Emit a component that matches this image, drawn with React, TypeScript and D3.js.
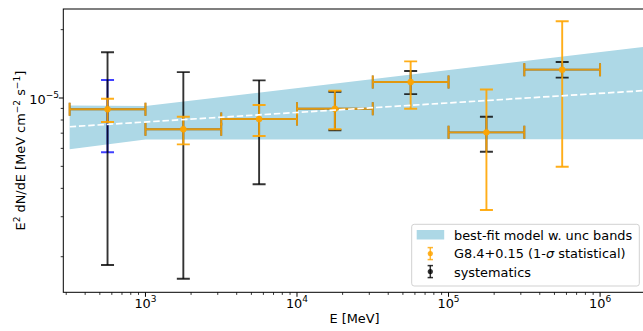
import React from 'react';
import * as d3 from 'd3';

// ---- data ----
const energy = [562, 1778, 5623, 17783, 56234, 177828, 562341];
const eLow = [316, 1000, 3162, 10000, 31623, 100000, 316228];
const eHigh = [1000, 3162, 10000, 31623, 100000, 316228, 1000000];
const flux = [8.92e-6, 7.28e-6, 8.08e-6, 8.97e-6, 1.176e-5, 7.06e-6, 1.333e-5];
const statLow = [7.84e-6, 6.25e-6, 6.8e-6, 7.28e-6, 8.97e-6, 3.21e-6, 4.98e-6];
const statHigh = [9.93e-6, 8.27e-6, 9.31e-6, 1.077e-5, 1.45e-5, 1.09e-5, 2.177e-5];
const sysLow = [1.84e-6, 1.6e-6, 4.17e-6, 7.21e-6, 1.04e-5, 5.8e-6, 1.229e-5];
const sysHigh = [1.59e-5, 1.3e-5, 1.196e-5, 1.066e-5, 1.315e-5, 8.27e-6, 1.44e-5];
const extraIndex = [0];
const extraLow = [5.77e-6];
const extraHigh = [1.2e-5];
const bandE = [316, 1000, 2000000];
const bandLow = [5.94e-6, 6.56e-6, 6.58e-6];
const bandHigh = [9.27e-6, 9.22e-6, 1.683e-5];
const fitE = [316, 2000000];
const fitFlux = [7.47e-6, 1.079e-5];
const xMajor = [1e3, 1e4, 1e5, 1e6];
const xMajorExp = ['3', '4', '5', '6'];
const yMajor = [1e-5];
const yMajorExp = ['\u22125'];
const legendLabels = ['best-fit model w. unc bands', 'G8.4+0.15 (1-', ' statistical)', 'systematics'];

// ---- layout ----
const W = 643;
const H = 331;
const L = 63.3;
const R = 645.7;
const T = 9;
const B = 292.3;
const FONT = "'DejaVu Sans', sans-serif";
const ORANGE = '#ffa500';
const CAP = 6.5;
const LW = 1.9;
const FS = 12.9;
const FSS = 9;
const SUP = 5.2;

export default function App() {
  const x = d3.scaleLog().domain([287, 2.0e6]).range([L, R]);
  const y = d3.scaleLog().domain([1.394e-6, 2.466e-5]).range([B, T]);

  const xMinor: number[] = [];
  for (let d = 100; d <= 1e6; d *= 10) {
    for (let k = 2; k <= 9; k++) {
      const v = d * k;
      if (v >= 287 && v <= 2.0e6) xMinor.push(v);
    }
  }
  const yMinor: number[] = [];
  for (let d = 1e-6; d <= 1e-5 * 1.01; d *= 10) {
    for (let k = 2; k <= 9; k++) {
      const v = d * k;
      if (v >= 1.394e-6 && v <= 2.466e-5) yMinor.push(v);
    }
  }

  const area = d3
    .area<number>()
    .x((_, i) => x(bandE[i]))
    .y0((_, i) => y(bandLow[i]))
    .y1((_, i) => y(bandHigh[i]));
  const fitLine = d3
    .line<number>()
    .x((_, i) => x(fitE[i]))
    .y((_, i) => y(fitFlux[i]));

  const vBar = (xi: number, lo: number, hi: number, color: string, op: number, key: string) => (
    <g key={key} stroke={color} strokeOpacity={op} strokeWidth={LW} fill="none">
      <line x1={xi} x2={xi} y1={y(lo)} y2={y(hi)} />
      <line x1={xi - CAP} x2={xi + CAP} y1={y(lo)} y2={y(lo)} />
      <line x1={xi - CAP} x2={xi + CAP} y1={y(hi)} y2={y(hi)} />
    </g>
  );
  const hBar = (i: number, color: string, op: number, key: string) => {
    const yi = y(flux[i]);
    return (
      <g key={key} stroke={color} strokeOpacity={op} strokeWidth={LW} fill="none">
        <line x1={x(eLow[i])} x2={x(eHigh[i])} y1={yi} y2={yi} />
        <line x1={x(eLow[i])} x2={x(eLow[i])} y1={yi - CAP} y2={yi + CAP} />
        <line x1={x(eHigh[i])} x2={x(eHigh[i])} y1={yi - CAP} y2={yi + CAP} />
      </g>
    );
  };

  const lgX = 411.7;
  const lgY = 224.3;
  const txt = { fontFamily: FONT };

  return (
    <svg
      width={W}
      height={H}
      style={{ position: 'absolute', left: 0, top: 0, background: '#fff', fontFamily: FONT }}
    >
      <defs>
        <clipPath id="plotclip">
          <rect x={L} y={T} width={R - L} height={B - T} />
        </clipPath>
      </defs>
      <rect x={0} y={0} width={W} height={H} fill="#fff" />
      <g clipPath="url(#plotclip)">
        <path d={area(bandE) || ''} fill="#add8e6" />
        {extraIndex.map((idx, j) => vBar(x(energy[idx]), extraLow[j], extraHigh[j], '#0000ff', 0.75, 'ex' + j))}
        {energy.map((e, i) => (
          <g key={'sys' + i}>
            {vBar(x(e), sysLow[i], sysHigh[i], '#000', 0.8, 'sv' + i)}
            {hBar(i, '#000', 0.6, 'sh' + i)}
          </g>
        ))}
        {energy.map((e, i) => (
          <g key={'stat' + i}>
            {vBar(x(e), statLow[i], statHigh[i], ORANGE, 0.9, 'tv' + i)}
            {hBar(i, ORANGE, 0.84, 'th' + i)}
            <circle cx={x(e)} cy={y(flux[i])} r={3.2} fill={ORANGE} fillOpacity={0.9} />
          </g>
        ))}
        <path d={fitLine(fitE) || ''} fill="none" stroke="#fff" strokeWidth={1.7} strokeDasharray="6.5,2.8" />
      </g>

      {/* spines */}
      <rect x={L} y={T} width={R - L} height={B - T} fill="none" stroke="#000" strokeWidth={1} />

      {/* x ticks */}
      {xMinor.map((v, i) => (
        <line key={'xm' + i} x1={x(v)} x2={x(v)} y1={B} y2={B + 2.6} stroke="#000" strokeWidth={0.8} />
      ))}
      {xMajor.map((v, i) => (
        <g key={'xM' + i}>
          <line x1={x(v)} x2={x(v)} y1={B} y2={B + 4.5} stroke="#000" strokeWidth={1} />
          <text x={x(v)} y={307.5} textAnchor="middle" fontSize={FS} fill="#000" style={txt}>
            <tspan>10</tspan>
            <tspan fontSize={FSS} dy={-SUP}>{xMajorExp[i]}</tspan>
          </text>
        </g>
      ))}
      {/* y ticks */}
      {yMinor.map((v, i) => (
        <line key={'ym' + i} x1={L} x2={L - 2.6} y1={y(v)} y2={y(v)} stroke="#000" strokeWidth={0.8} />
      ))}
      {yMajor.map((v, i) => (
        <g key={'yM' + i}>
          <line x1={L} x2={L - 4.5} y1={y(v)} y2={y(v)} stroke="#000" strokeWidth={1} />
          <text x={59} y={y(v) + 5.5} textAnchor="end" fontSize={FS} fill="#000" style={txt}>
            <tspan>10</tspan>
            <tspan fontSize={FSS} dy={-SUP}>{yMajorExp[i]}</tspan>
          </text>
        </g>
      ))}

      {/* axis labels */}
      <text x={(L + R) / 2} y={322.5} textAnchor="middle" fontSize={FS} fill="#000" style={txt}>
        E [MeV]
      </text>
      <text
        transform={`translate(25, ${(T + B) / 2}) rotate(-90)`}
        textAnchor="middle"
        fontSize={FS}
        fill="#000"
        style={txt}
      >
        <tspan>E</tspan>
        <tspan fontSize={FSS} dy={-SUP}>2</tspan>
        <tspan dy={SUP}> dN/dE [MeV cm</tspan>
        <tspan fontSize={FSS} dy={-SUP}>{'\u22122'}</tspan>
        <tspan dy={SUP}> s</tspan>
        <tspan fontSize={FSS} dy={-SUP}>{'\u22121'}</tspan>
        <tspan dy={SUP}>]</tspan>
      </text>

      {/* legend */}
      <g>
        <rect
          x={lgX}
          y={lgY}
          width={227.6}
          height={61.7}
          rx={2.5}
          fill="#fff"
          fillOpacity={0.8}
          stroke="#cccccc"
          strokeWidth={0.9}
        />
        <rect x={416.7} y={230} width={27.5} height={9.5} fill="#add8e6" />
        <text x={454} y={240.3} fontSize={FS} fill="#000" style={txt}>
          {legendLabels[0]}
        </text>
        <g stroke={ORANGE} strokeOpacity={0.8} strokeWidth={1.5}>
          <line x1={430.3} x2={430.3} y1={247.6} y2={259.6} />
          <line x1={427.6} x2={433} y1={247.6} y2={247.6} />
          <line x1={427.6} x2={433} y1={259.6} y2={259.6} />
        </g>
        <circle cx={430.3} cy={253.6} r={2.6} fill={ORANGE} fillOpacity={0.85} />
        <text x={454} y={258.4} fontSize={FS} fill="#000" style={txt}>
          <tspan>{legendLabels[1]}</tspan>
          <tspan fontStyle="italic">σ</tspan>
          <tspan>{legendLabels[2]}</tspan>
        </text>
        <g stroke="#000" strokeOpacity={0.8} strokeWidth={1.5}>
          <line x1={430.3} x2={430.3} y1={265.6} y2={277.6} />
          <line x1={427.6} x2={433} y1={265.6} y2={265.6} />
          <line x1={427.6} x2={433} y1={277.6} y2={277.6} />
        </g>
        <circle cx={430.3} cy={271.6} r={2.6} fill="#000" fillOpacity={0.8} />
        <text x={454} y={276.6} fontSize={FS} fill="#000" style={txt}>
          {legendLabels[3]}
        </text>
      </g>
    </svg>
  );
}
